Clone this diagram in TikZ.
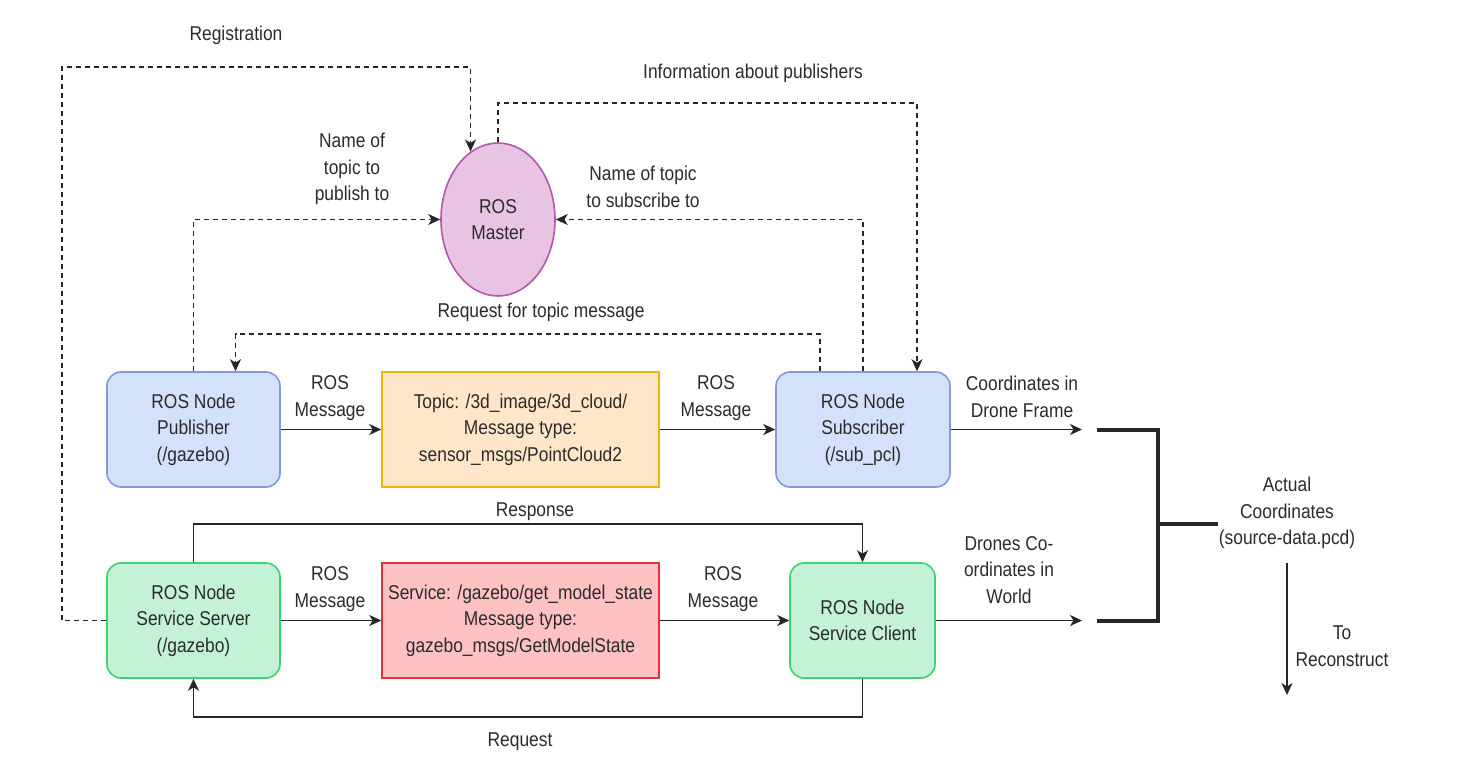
\documentclass[tikz,border=0pt]{standalone}
\usepackage{fontspec}
\setmainfont{Liberation Sans}[FakeStretch=0.87]
\usetikzlibrary{shapes.geometric,arrows.meta,calc}
\definecolor{txt}{HTML}{2B2B2B}
\definecolor{bluefill}{HTML}{D4E1FB}
\definecolor{bluedraw}{HTML}{7F9BDA}
\definecolor{orfill}{HTML}{FFE6C8}
\definecolor{ordraw}{HTML}{F0B400}
\definecolor{grfill}{HTML}{C4F2D6}
\definecolor{grdraw}{HTML}{3FD072}
\definecolor{rdfill}{HTML}{FFC2C2}
\definecolor{rddraw}{HTML}{E2303C}
\definecolor{mafill}{HTML}{E8C4E2}
\definecolor{madraw}{HTML}{B556A9}
\tikzset{
  x=1pt,y=-1pt,
  every node/.style={font=\fontsize{20}{26.5}\selectfont, text=txt, align=center, inner sep=0pt},
  rosnode/.style={rounded corners=14pt, line width=1.6pt, minimum height=115pt},
  msgbox/.style={line width=1.6pt, minimum height=115pt, minimum width=277pt},
  arr/.style={line width=1.8pt, draw=black!85, -{Stealth[length=12pt,width=11pt,inset=3.5pt]}},
  dasharr/.style={arr, dash pattern=on 5pt off 4pt},
  thickline/.style={line width=4pt, draw=black!85}
}
\begin{document}
\begin{tikzpicture}
\useasboundingbox (0,0) rectangle (1469,778);
% nodes
\node[rosnode, fill=bluefill, draw=bluedraw, minimum width=173pt] (pub) at (193.5,429.5) {ROS Node\\Publisher\\(/gazebo)};
\node[msgbox, fill=orfill, draw=ordraw] (topic) at (520.5,429.5) {Topic: /3d\_image/3d\_cloud/\\Message type:\\sensor\_msgs/PointCloud2};
\node[rosnode, fill=bluefill, draw=bluedraw, minimum width=174pt] (sub) at (863,429.5) {ROS Node\\Subscriber\\(/sub\_pcl)};
\node[rosnode, fill=grfill, draw=grdraw, minimum width=173pt] (server) at (193.5,620.5) {ROS Node\\Service Server\\(/gazebo)};
\node[msgbox, fill=rdfill, draw=rddraw] (service) at (520.5,620.5) {Service: /gazebo/get\_model\_state\\Message type:\\gazebo\_msgs/GetModelState};
\node[rosnode, fill=grfill, draw=grdraw, minimum width=145pt] (client) at (862.5,620.5) {ROS Node\\Service Client};
\node[ellipse, fill=mafill, draw=madraw, line width=1.6pt, minimum width=114pt, minimum height=153pt] (master) at (498,219.5) {ROS\\Master};

% coordinates for bends and free ends
\coordinate (regcorner) at (62,67);
\coordinate (b1) at (1082,429.5);
\coordinate (b2) at (1082,620.5);
\coordinate (k1) at (1097,429.5);
\coordinate (k2) at (1097,620.5);
\coordinate (kv) at (1158,524);
\coordinate (kout) at (1218,524);
\coordinate (down1) at (1287,563);
\coordinate (down2) at (1287,695);

% labels
\node (lreg) at (236,35) {Registration};
\node (lpubname) at (352,169) {Name of\\topic to\\publish to};
\node (linfo) at (753,73) {Information about publishers};
\node (lsubname) at (643,187) {Name of topic\\to subscribe to};
\node (lreq) at (541,312) {Request for topic message};
\node (lm1) at (330,398) {ROS\\Message};
\node (lm2) at (716,398) {ROS\\Message};
\node (lm3) at (330,589) {ROS\\Message};
\node (lm4) at (723,589) {ROS\\Message};
\node (lresp) at (535,512) {Response};
\node (lrequest) at (520,742) {Request};
\node (ldrone) at (1022,397) {Coordinates in\\Drone Frame};
\node (lworld) at (1009,570) {Drones Co-\\ordinates in\\World};
\node (actual) at (1287,513) {Actual\\Coordinates\\(source-data.pcd)};
\node (lrecon) at (1342,646) {To\\Reconstruct};

% dashed connectors to/from master
\draw[dasharr] (server.west) -| (regcorner) -| (master.112.8);
\draw[dasharr] (pub.north) |- (master.west);
\draw[dasharr] (master.north) -- ++(0,-39) -| ($(sub.north)+(54,0)$);
\draw[dasharr] (sub.north) |- (master.east);
\draw[dasharr] ($(sub.north)+(-43,0)$) -- ++(0,-37) -| ($(pub.north)+(42,0)$);

% message arrows
\draw[arr] (pub.east) -- (topic.west);
\draw[arr] (topic.east) -- (sub.west);
\draw[arr] (server.east) -- (service.west);
\draw[arr] (service.east) -- (client.west);

% service response/request
\draw[arr] (server.north) -- ++(0,-38) -| (client.north);
\draw[arr] (client.south) -- ++(0,38) -| (server.south);

% outputs
\draw[arr] (sub.east) -- (b1);
\draw[arr] (client.east) -- (b2);
\draw[thickline] (k1) -- (k1 -| kv) -- (k2 -| kv) -- (k2);
\draw[thickline] (kv) -- (kout);
\draw[arr] (down1) -- (down2);
\end{tikzpicture}
\end{document}
